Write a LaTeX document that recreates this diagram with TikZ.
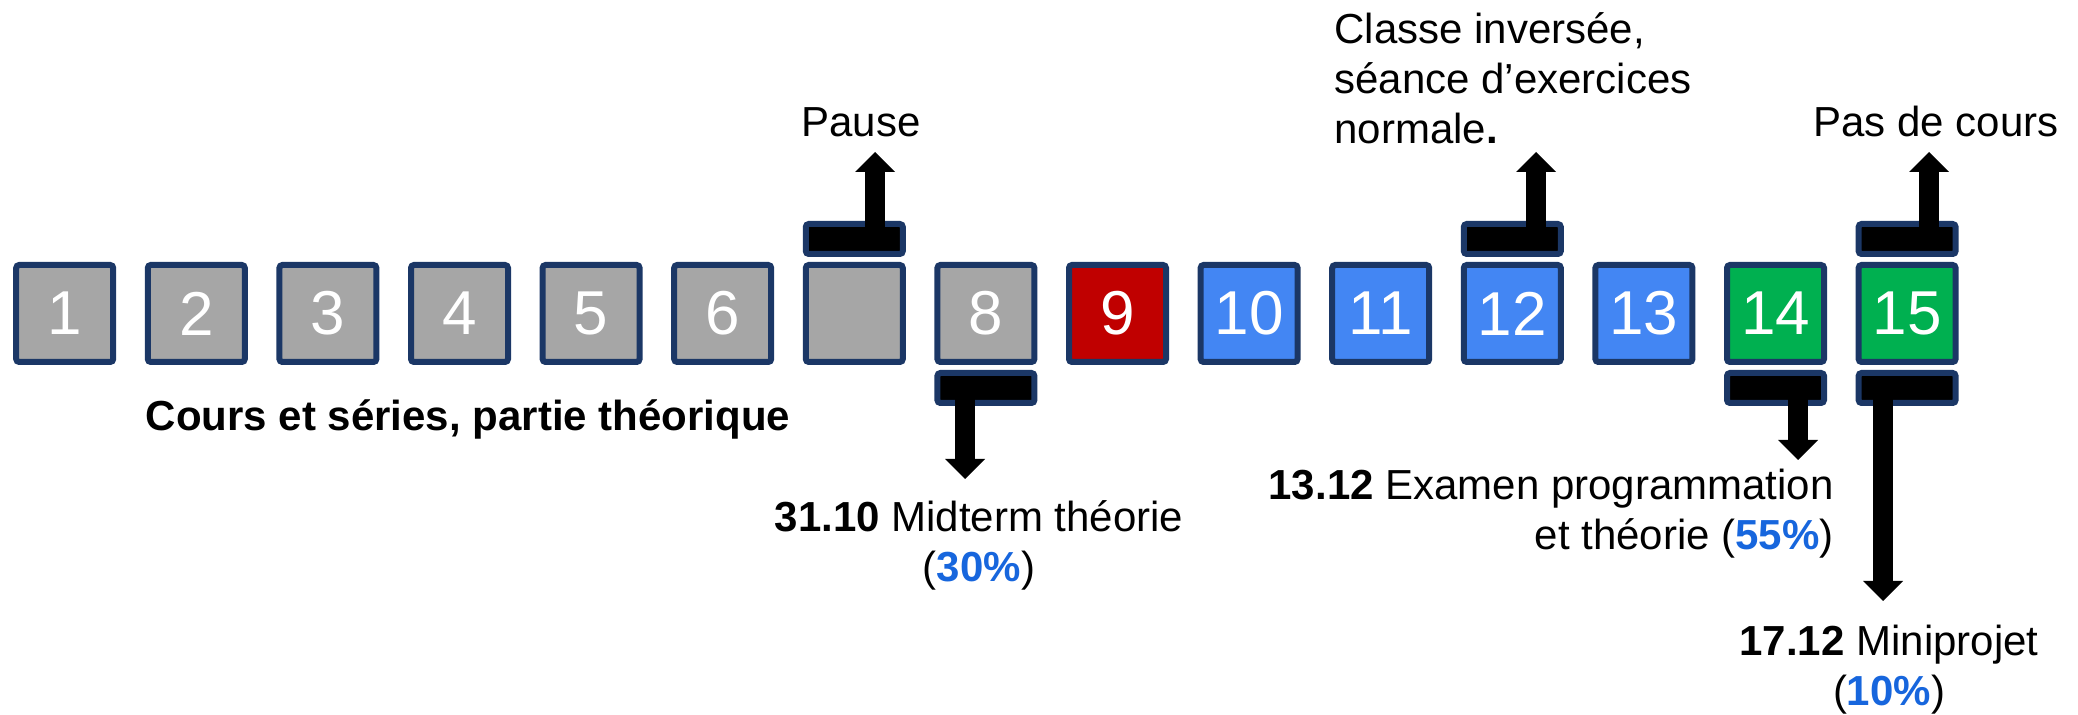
\documentclass[tikz,border=0pt]{standalone}
\usepackage{fontspec}
\setmainfont{Liberation Sans}
\usepackage{xcolor}
\definecolor{WeekGrey}{HTML}{A6A6A6}
\definecolor{ExamRed}{HTML}{C00000}
\definecolor{ProgBlue}{HTML}{4386F3}
\definecolor{ProjGreen}{HTML}{00B050}
\definecolor{FrameNavy}{HTML}{1B3766}
\definecolor{PctBlue}{HTML}{1766DD}
\usetikzlibrary{positioning,arrows.meta}
\newcommand{\pct}[1]{\textbf{\color{PctBlue}#1\%}}

\begin{document}
\begin{tikzpicture}[x=0.5pt, y=-0.5pt, node distance=17.3pt,
  every node/.style={font=\fontsize{21}{25}\selectfont},
  week/.style={draw=FrameNavy, line width=3pt, rounded corners=1.5pt, minimum size=48.5pt,
    inner sep=0pt, outer sep=0pt, text=white, font=\fontsize{31}{31}\selectfont},
  slot/.style={draw=FrameNavy, fill=black, line width=3pt, rounded corners=1.5pt,
    minimum width=48.5pt, minimum height=15pt, inner sep=0pt, outer sep=0pt},
  bigarrow/.style={line width=10pt, -{Triangle[width=20pt,length=10pt,line width=0pt]}},
  lbl/.style={inner sep=0pt}]
  \useasboundingbox (0,0) rectangle (2078,715);

  % weeks of the semester
  \node[week, fill=WeekGrey] (w1) at (64.7,313.5) {1};
  \foreach \i/\t/\c [count=\p from 1] in {2/2/WeekGrey, 3/3/WeekGrey, 4/4/WeekGrey,
      5/5/WeekGrey, 6/6/WeekGrey, 7/{}/WeekGrey, 8/8/WeekGrey, 9/9/ExamRed,
      10/10/ProgBlue, 11/11/ProgBlue, 12/12/ProgBlue, 13/13/ProgBlue,
      14/14/ProjGreen, 15/15/ProjGreen}
    \node[week, fill=\c, right=of w\p] (w\i) {\t};

  % markers above / below
  \node[slot, above=5.5pt of w7] (s7) {};
  \node[slot, above=5.5pt of w12] (s12) {};
  \node[slot, above=5.5pt of w15] (s15a) {};
  \node[slot, below=5.5pt of w8] (s8) {};
  \node[slot, below=5.5pt of w14] (s14) {};
  \node[slot, below=5.5pt of w15] (s15b) {};

  % labels (base = last line)
  \node[lbl, anchor=base] (pause) at (861,137) {Pause};
  \node[lbl, anchor=base west, align=left] (classe) at (1334,144)
    {Classe inversée,\\séance d’exercices\\normale\textbf{.}};
  \node[lbl, anchor=base] (nocours) at (1936,137) {Pas de cours};
  \node[lbl, anchor=base, font=\fontsize{21}{25}\selectfont\bfseries] (theorie) at (468,431)
    {Cours et séries, partie théorique};
  \node[lbl, anchor=base, align=center] (midterm) at (979,582)
    {\textbf{31.10} Midterm théorie\\(\pct{30})};
  \node[lbl, anchor=base east, align=right] (examen) at (1834,550)
    {\textbf{13.12} Examen programmation\\et théorie (\pct{55})};
  \node[lbl, anchor=base, align=center] (projet) at (1889,705)
    {\textbf{17.12} Miniprojet\\(\pct{10})};

  % arrow ends
  \coordinate (t7) at (875,152);
  \coordinate (t12) at (1536,152);
  \coordinate (t15a) at (1929,152);
  \coordinate (t8) at (965,479);
  \coordinate (t14) at (1798,460);
  \coordinate (t15b) at (1883,601);

  \draw[bigarrow] (s7.center -| t7) -- (t7);
  \draw[bigarrow] (s12.center -| t12) -- (t12);
  \draw[bigarrow] (s15a.center -| t15a) -- (t15a);
  \draw[bigarrow] (s8.center -| t8) -- (t8);
  \draw[bigarrow] (s14.center -| t14) -- (t14);
  \draw[bigarrow] (s15b.center -| t15b) -- (t15b);
\end{tikzpicture}
\end{document}
